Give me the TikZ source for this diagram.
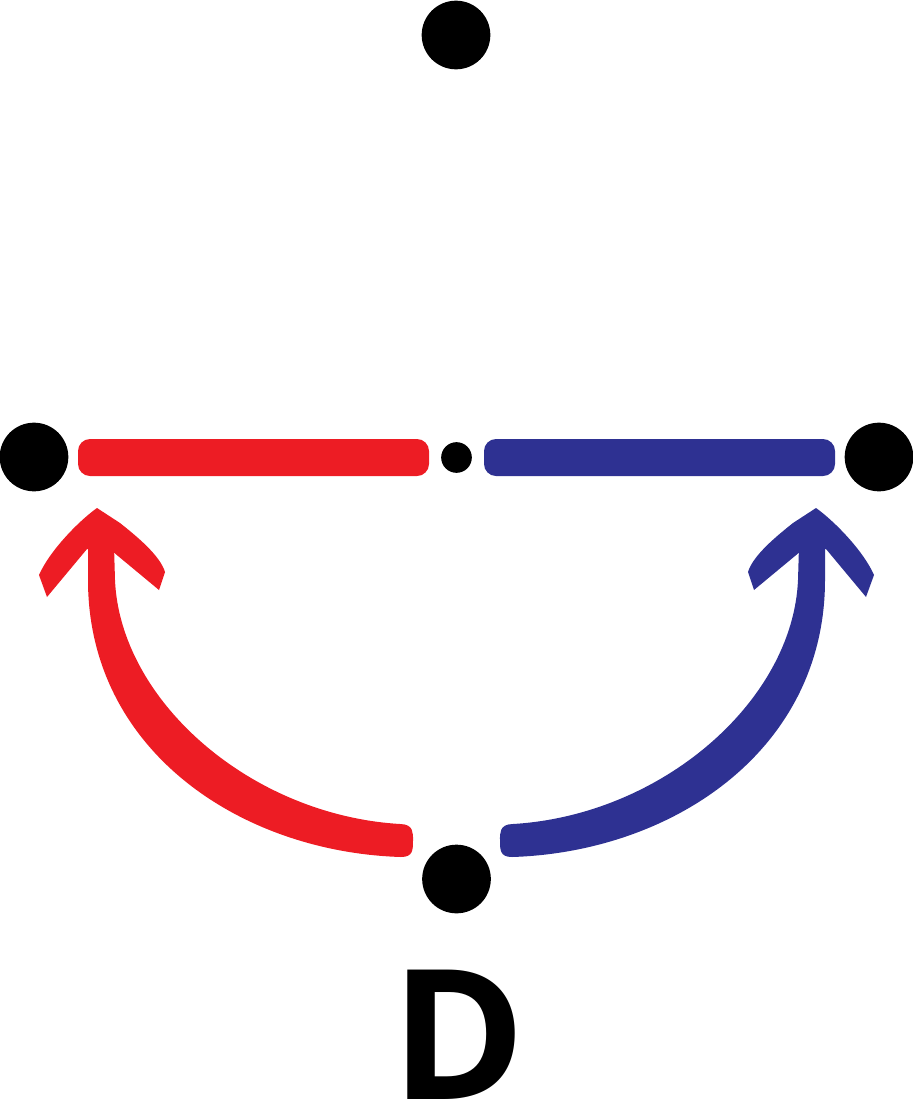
\documentclass[tikz,border=0pt]{standalone}
\usepackage{fontspec}
\newfontfamily\labelfont{Open Sans}
\definecolor{cred}{HTML}{ED1C24}
\definecolor{cblue}{HTML}{2E3192}
\tikzset{
  dot/.style={circle,fill=black,inner sep=0pt,minimum size=51.5pt},
  smalldot/.style={circle,fill=black,inner sep=0pt,minimum size=23pt},
  bar/.style={rounded corners=9pt}
}
\newcommand\halfarrowshape{%
  % shaft
  \fill (88,546) -- (114,546) -- (115,580)
    .. controls (120,700) and (250,815) .. (400,824)
    .. controls (414,824) and (413,834) .. (413,840)
    .. controls (413,850) and (413,857) .. (401,857)
    .. controls (240,852) and (88,750) .. (88,580) -- cycle;
  % arrowhead
  \fill (97,508) .. controls (80,520) and (50,550) .. (39,575)
    -- (47,597) -- (87,549) -- (112,551) -- (159,590)
    -- (165,572) .. controls (160,555) and (135,535) .. (120,523) -- cycle;
  % bar
  \fill[bar] (78,439) rectangle (429,476);
}
\begin{document}
\begin{tikzpicture}[x=0.75pt,y=-0.75pt]
\useasboundingbox (0,0) rectangle (913,1103);
\node[dot] (top) at (456,35) {};
\node[dot] (left) at (34,457) {};
\node[dot] (right) at (879,457) {};
\node[dot] (bottom) at (456.5,879) {};
\node[smalldot] (mid) at (456.5,457.5) {};
\begin{scope}[cred]
\halfarrowshape
\end{scope}
\begin{scope}[cblue,shift={(913,0)},xscale=-1]
\halfarrowshape
\end{scope}
\node[anchor=south,inner sep=0pt,text depth=0pt,font=\labelfont\bfseries\fontsize{136}{136}\selectfont] (label) at (459,1100) {D};
\end{tikzpicture}
\end{document}
